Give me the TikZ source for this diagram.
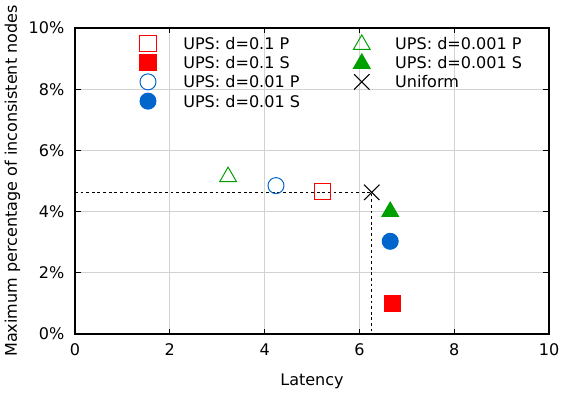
\documentclass[tikz,border=0pt]{standalone}
\usepackage{fontspec}
\setmainfont{DejaVu Sans}
\usetikzlibrary{shapes.geometric,shapes.misc,positioning}

\definecolor{upsred}{RGB}{255,0,0}
\definecolor{upsblue}{RGB}{0,102,204}
\definecolor{upsgreen}{RGB}{0,160,0}

\tikzset{
  mk/.style={inner sep=0pt,line width=0.7pt},
  sqopen/.style={mk,rectangle,draw=upsred,minimum size=0.40cm},
  sqfull/.style={mk,rectangle,draw=upsred,fill=upsred,minimum size=0.40cm},
  ciopen/.style={mk,circle,draw=upsblue,minimum size=0.40cm},
  cifull/.style={mk,circle,draw=upsblue,fill=upsblue,minimum size=0.40cm},
  tropen/.style={mk,regular polygon,regular polygon sides=3,draw=upsgreen,minimum size=0.48cm},
  trfull/.style={mk,regular polygon,regular polygon sides=3,draw=upsgreen,fill=upsgreen,minimum size=0.48cm},
  xmark/.style={mk,cross out,draw=black,minimum size=0.36cm},
  legtext/.style={anchor=west,inner sep=0pt,font=\fontsize{11.4}{13}\selectfont},
  ticktext/.style={inner sep=0pt,font=\fontsize{11.4}{13}\selectfont},
  gridline/.style={gray!35,line width=0.6pt},
  guideline/.style={black,line width=0.6pt,dash pattern=on 2pt off 2pt}
}

\begin{document}
\begin{tikzpicture}[x=1.185cm,y=0.765cm]
\useasboundingbox (-1.582,-2.026) rectangle (10.316,10.915);

% grid
\foreach \gx in {2,4,6,8} \draw[gridline] (\gx,0) -- (\gx,10);
\foreach \gy in {2,4,6,8} \draw[gridline] (0,\gy) -- (10,\gy);

% ticks and labels
\foreach \gx in {0,2,...,10} {
  \draw[line width=0.6pt] (\gx,0) -- ++(0,0.17) (\gx,10) -- ++(0,-0.17);
  \node[ticktext,anchor=north] (xt\gx) at (\gx,-0.30) {\gx};
}
\foreach \gy in {0,2,...,10} {
  \draw[line width=0.6pt] (0,\gy) -- ++(0.13,0) (10,\gy) -- ++(-0.13,0);
  \node[ticktext,anchor=east] (yt\gy) at (-0.22,\gy) {\gy\%};
}
\draw[line width=0.8pt] (0,0) rectangle (10,10);

\node[ticktext] (xlabel) at (5,-1.54) {Latency};
\node[ticktext,rotate=90] (ylabel) at (-1.32,5.0) {Maximum percentage of inconsistent nodes};

% legend
\node[sqopen] (lk1) at (1.54,9.48) {};
\node[sqfull] (lk2) at (1.54,8.86) {};
\node[ciopen] (lk3) at (1.54,8.24) {};
\node[cifull] (lk4) at (1.54,7.61) {};
\node[tropen] (lk5) at (6.05,9.46) {};
\node[trfull] (lk6) at (6.05,8.84) {};
\node[xmark]  (lk7) at (6.05,8.24) {};
\node[legtext] (lt1) at (2.28,9.48) {UPS: d=0.1 P};
\node[legtext] (lt2) at (2.28,8.86) {UPS: d=0.1 S};
\node[legtext] (lt3) at (2.28,8.24) {UPS: d=0.01 P};
\node[legtext] (lt4) at (2.28,7.61) {UPS: d=0.01 S};
\node[legtext] (lt5) at (6.75,9.48) {UPS: d=0.001 P};
\node[legtext] (lt6) at (6.75,8.86) {UPS: d=0.001 S};
\node[legtext] (lt7) at (6.75,8.24) {Uniform};

% data
\coordinate (yhit) at (0,4.63);
\coordinate (xhit) at (6.26,0);
\node[xmark]  (unif) at (6.26,4.63) {};
\draw[guideline] (yhit) -- (unif.center) -- (xhit);
\node[sqopen] (p01)  at (5.23,4.65) {};
\node[ciopen] (p001) at (4.24,4.85) {};
\node[tropen] (p0001) at (3.23,5.14) {};
\node[trfull] (s0001) at (6.65,4.0) {};
\node[cifull] (s001) at (6.65,3.03) {};
\node[sqfull] (s01) at (6.70,1.0) {};
\end{tikzpicture}
\end{document}
